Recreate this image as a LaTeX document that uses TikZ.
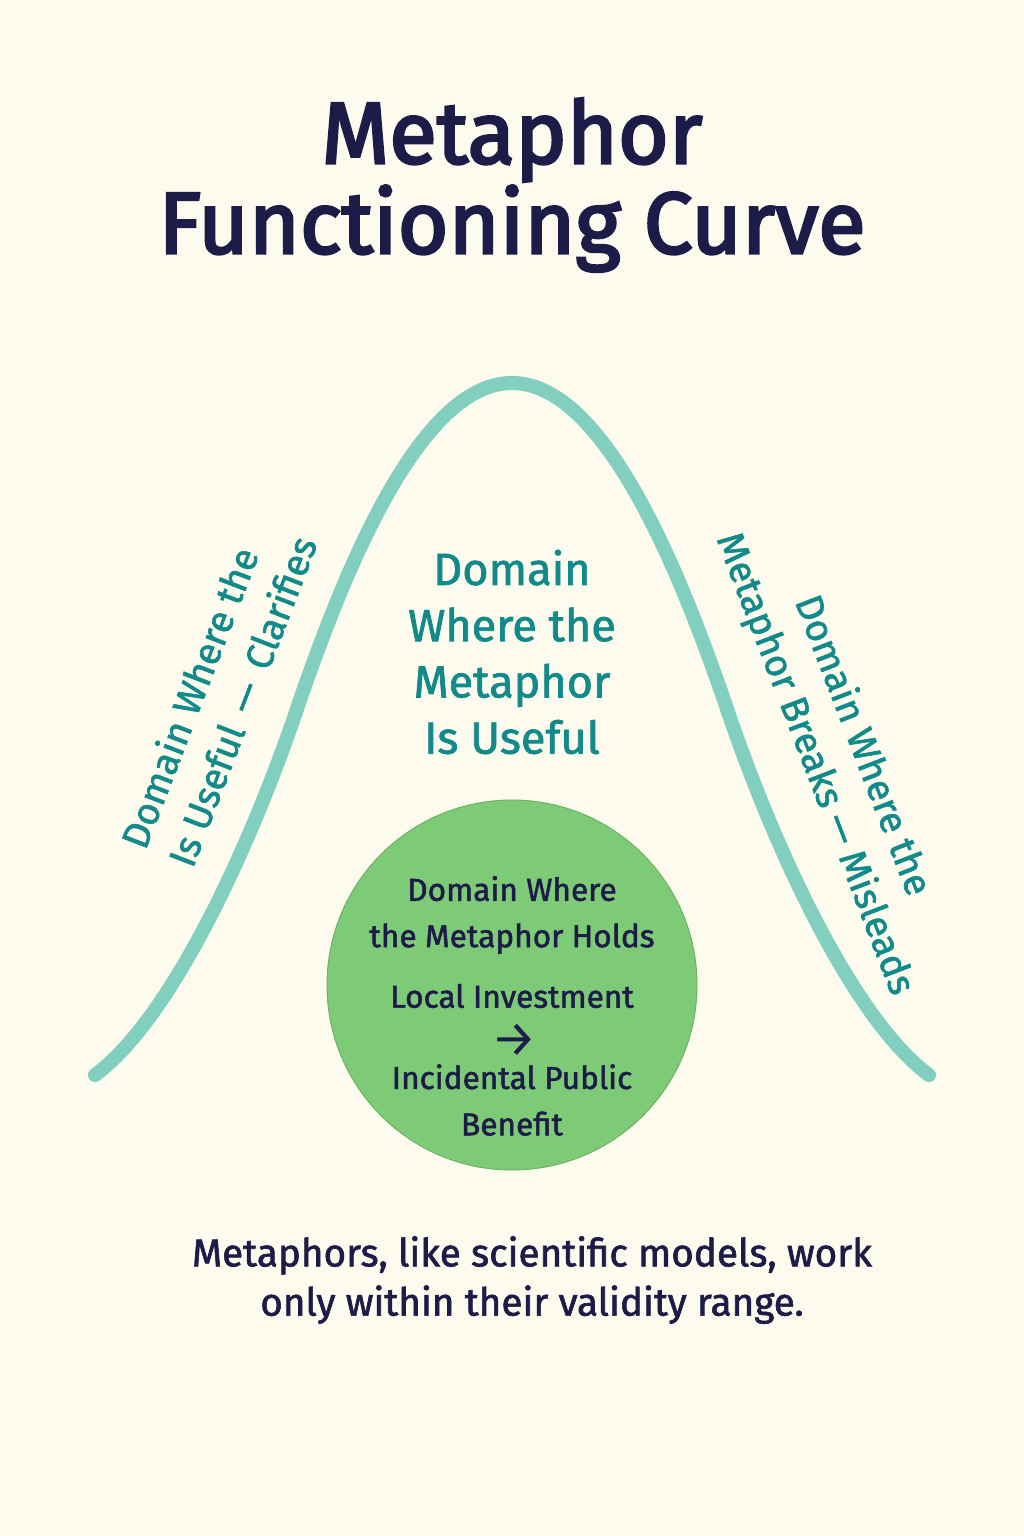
\documentclass[tikz,border=0pt]{standalone}
\usepackage{fontspec}
\setmainfont{Fira Sans}
\newfontfamily\medfont{Fira Sans}[FakeBold=1.6]
\newfontfamily\headfont{Fira Sans}[FakeBold=3]
\usepackage{xcolor}
\usetikzlibrary{positioning}
\definecolor{bgcream}{HTML}{FDFBEE}
\definecolor{titlenavy}{HTML}{1D1B48}
\definecolor{curveteal}{HTML}{82CFC0}
\definecolor{textteal}{HTML}{138A8A}
\definecolor{holdgreen}{HTML}{7ECB77}

\begin{document}
\begin{tikzpicture}[
    x=0.025cm, y=-0.025cm,
    title/.style={text=titlenavy, align=center, font=\headfont\fontsize{62}{64}\selectfont},
    curve/.style={draw=curveteal, line width=10pt, line cap=round},
    zonelabel/.style={text=textteal, align=center, font=\medfont\fontsize{32}{40}\selectfont},
    sidelabel/.style={text=textteal, font=\medfont\fontsize{27}{36}\selectfont},
    holdzone/.style={circle, fill=holdgreen, draw=holdgreen!85!black, line width=0.6pt, minimum size=9.25cm, inner sep=0pt},
    holdtext/.style={text=titlenavy, align=center, font=\medfont\fontsize{22.5}{33}\selectfont},
    caption/.style={text=titlenavy, align=center, font=\medfont\fontsize{27.5}{35}\selectfont}
]

% Background
\fill[bgcream] (0,0) rectangle (1024,1536);
\useasboundingbox (0,0) rectangle (1024,1536);

% Title
\node[title] (head) at (512,185) {Metaphor\\Functioning Curve};

% Curve
\draw[curve] (95,1075) .. controls (170,1020) and (250,850) .. (300,700)
    .. controls (345,570) and (420,383) .. (512,383)
    .. controls (604,383) and (679,570) .. (724,700)
    .. controls (774,850) and (854,1020) .. (929,1075);

% Domains
\node[zonelabel] (useful) at (512,652) {Domain\\Where the\\Metaphor\\Is Useful};
\node[sidelabel, rotate=69, align=left] (clarifies) at (218,692) {Domain Where the\\Is Useful \,—\, Clarifies};
\node[sidelabel, rotate=-69, align=center] (misleads) at (838,755) {Domain Where the\\Metaphor Breaks — Misleads};

% Holding zone
\node[holdzone] (zone) at (512,985) {};
\node[holdtext] (holds) at (512,915) {Domain Where\\the Metaphor Holds};
\node[holdtext] (invest) at (512,996) {Local Investment};
\node[holdtext, font=\fontsize{36}{36}\selectfont] (to) at (514,1040) {→};
\node[holdtext] (benefit) at (512,1100) {Incidental Public\\Benefit};

% Caption
\node[caption] (note) at (532,1280) {Metaphors, like scientific models, work\\only within their validity range.};

\end{tikzpicture}
\end{document}
